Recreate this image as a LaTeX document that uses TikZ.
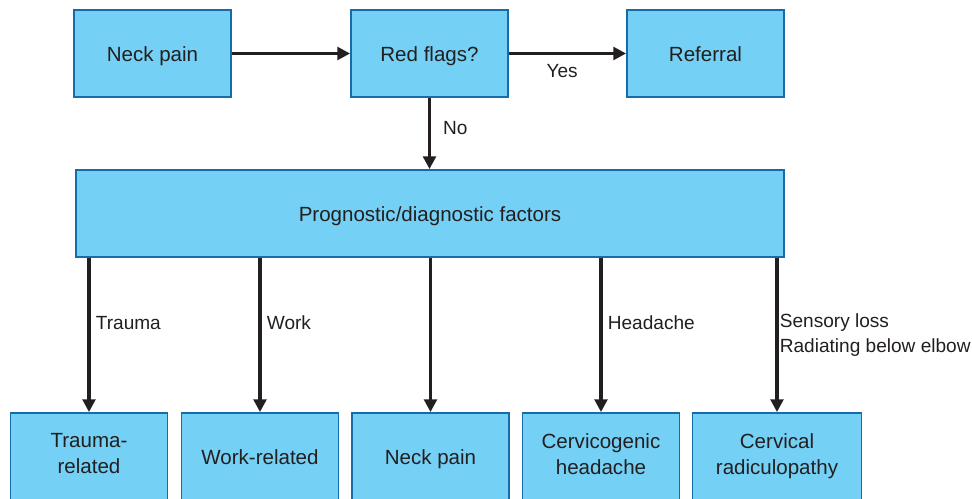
\documentclass[tikz,border=0pt]{standalone}
\usepackage{fontspec}
\setmainfont{Liberation Sans}
\usetikzlibrary{arrows.meta,positioning}
\definecolor{sky}{RGB}{116,208,244}
\definecolor{sea}{RGB}{22,108,168}
\definecolor{ink}{RGB}{35,31,32}
\tikzset{
  >={Triangle[length=9.5pt,width=9.5pt]},
  box/.style={draw=sea,fill=sky,line width=1.4pt,text=ink,
    minimum width=117.75pt,minimum height=65.25pt,align=center,
    font=\fontsize{15.4}{19.5}\selectfont,
    execute at begin node={\rule[-0.25em]{0pt}{1.25em}}},
  flow/.style={->,line width=2.3pt,draw=ink},
  tag/.style={font=\fontsize{14.3}{18.75}\selectfont,text=ink,align=left,inner sep=1pt},
}
\begin{document}
\begin{tikzpicture}[x=0.75pt,y=-0.75pt]
  \useasboundingbox (0,0) rectangle (972,499);
  % top row
  \node[box] (neck) at (152.5,53.5) {Neck pain};
  \node[box] (flags) at (429.5,53.5) {Red flags?};
  \node[box] (refer) at (705.5,53.5) {Referral};
  % factors
  \node[box,minimum width=531pt] (factors) at (430,213.5) {Prognostic/diagnostic factors};
  % bottom row
  \node[box] (trauma) at (89,456.5) {Trauma-\\related};
  \node[box] (work) at (260,456.5) {Work-related};
  \node[box] (plain) at (430.5,456.5) {Neck pain};
  \node[box] (cgh) at (601,456.5) {Cervicogenic\\headache};
  \node[box,minimum width=126.75pt] (radic) at (777,456.5) {Cervical\\radiculopathy};
  % connectors
  \draw[flow] (neck) -- (flags);
  \draw[flow] (flags) -- node[tag,below=6pt,xshift=-4pt] {Yes} (refer);
  \draw[flow] (flags) -- node[tag,pos=0.43,right=8pt] {No} (flags |- factors.north);
  \draw[flow] (factors.south -| trauma.north) -- node[tag,pos=0.42,right=3pt] {Trauma} (trauma);
  \draw[flow] (factors.south -| work.north) -- node[tag,pos=0.42,right=3pt] {Work} (work);
  \draw[flow] (factors.south -| plain.north) -- (plain);
  \draw[flow] (factors.south -| cgh.north) -- node[tag,pos=0.42,right=3pt] {Headache} (cgh);
  \draw[flow] (factors.south -| radic.north) -- node[tag,pos=0.5,right=0pt] {Sensory loss\\Radiating below elbow} (radic);
\end{tikzpicture}
\end{document}
